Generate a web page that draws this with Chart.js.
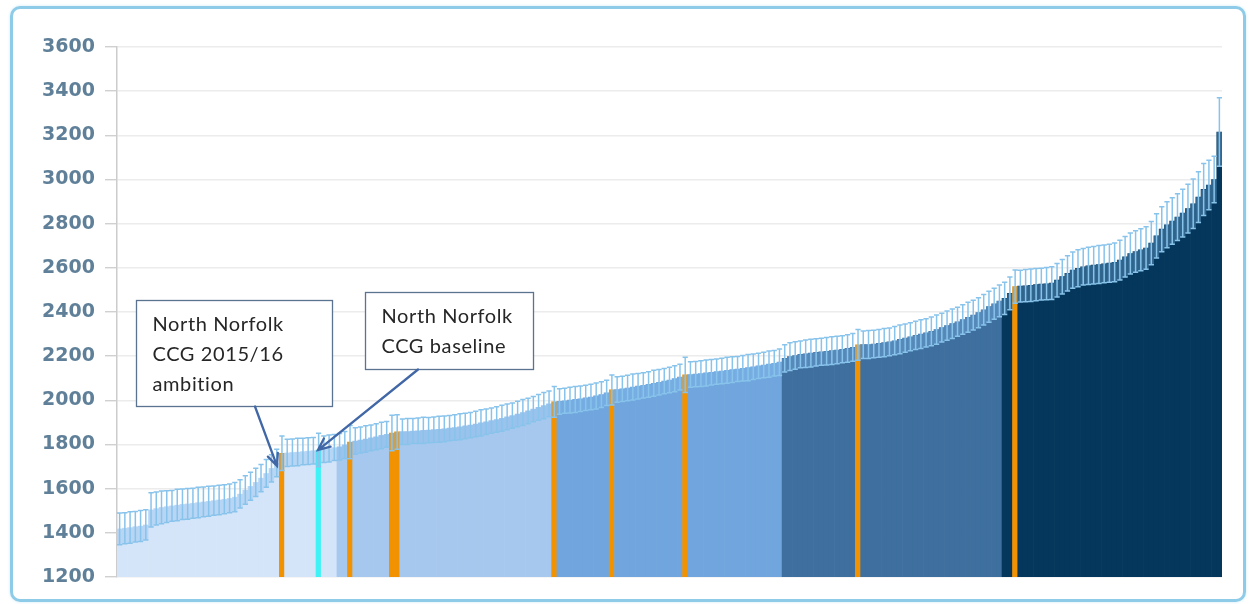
<!DOCTYPE html>
<html>
<head>
<meta charset="utf-8">
<script src="https://cdn.jsdelivr.net/npm/chart.js@4.4.1/dist/chart.umd.min.js"></script>
<style>
  html, body { margin: 0; padding: 0; background: #ffffff; }
  #wrap { position: relative; width: 1249px; height: 604px; overflow: hidden; }
  #wrap canvas { position: absolute; left: 0; top: 0; }
  #frame {
    position: absolute; left: 10px; top: 6px; width: 1230px; height: 590px;
    border: 3px solid #8ecbe9; border-radius: 10px;
    box-shadow: 0 0 3px #cbe9f7; pointer-events: none;
  }
</style>
</head>
<body>
<div id="wrap">
  <canvas id="chart" width="1249" height="604"></canvas>
  <div id="frame"></div>
</div>
<script>
// Rate per CCG, sorted from lowest to highest
const ccgValues = [
  1418, 1421, 1424, 1428, 1431, 1436, 1504, 1510, 1515, 1519,
  1522, 1526, 1529, 1531, 1534, 1537, 1540, 1543, 1546, 1549,
  1552, 1556, 1562, 1576, 1594, 1611, 1629, 1648, 1669, 1692,
  1716, 1760, 1762, 1764, 1766, 1768, 1770, 1772, 1775, 1778,
  1782, 1786,
  1790, 1798, 1811, 1816, 1820, 1825, 1830, 1835, 1841, 1846,
  1852, 1857, 1858, 1859, 1861, 1862, 1864, 1865, 1867, 1869,
  1871, 1874, 1877, 1880, 1884, 1888, 1893, 1898, 1903, 1908,
  1913, 1919, 1925, 1931, 1938, 1945, 1952, 1960, 1968, 1976,
  1984, 1993,
  1995, 1998, 2001, 2004, 2007, 2011, 2015, 2020, 2026, 2034,
  2047, 2049, 2052, 2056, 2060, 2064, 2068, 2072, 2077, 2082,
  2087, 2092, 2098, 2105, 2115, 2117, 2119, 2121, 2124, 2127,
  2130, 2133, 2136, 2139, 2142, 2145, 2148, 2152, 2156, 2160,
  2164, 2168, 2173,
  2190, 2198, 2203, 2208, 2211, 2214, 2217, 2220, 2222, 2225,
  2228, 2231, 2235, 2240, 2251, 2252, 2253, 2255, 2258, 2261,
  2265, 2270, 2276, 2282, 2288, 2294, 2300, 2306, 2312, 2320,
  2329, 2338, 2347, 2356, 2366, 2376, 2386, 2397, 2410, 2424,
  2437, 2450,
  2462, 2484, 2515, 2517, 2519, 2521, 2524, 2526, 2528, 2531,
  2544, 2560, 2575, 2590, 2598, 2605, 2609, 2612, 2615, 2618,
  2621, 2625, 2635, 2650, 2665, 2674, 2682, 2690, 2712, 2745,
  2775, 2795, 2812, 2830, 2848, 2868, 2890, 2920, 2955, 2975,
  3000, 3215
];

// Half-width of each CCG's confidence interval
const ciHalfWidth = [
  72, 70, 71, 69, 70, 68, 78, 75, 74, 72,
  70, 71, 69, 70, 68, 69, 67, 68, 66, 67,
  66, 65, 66, 64, 65, 63, 64, 62, 63, 62,
  62, 78, 62, 61, 62, 60, 61, 60, 76, 60,
  61, 59,
  60, 61, 75, 60, 59, 60, 58, 59, 60, 58,
  80, 78, 58, 59, 57, 58, 59, 57, 58, 59,
  58, 57, 58, 59, 58, 57, 58, 59, 58, 57,
  58, 59, 58, 57, 58, 59, 58, 57, 58, 59,
  58, 70,
  58, 57, 58, 59, 58, 57, 58, 59, 58, 57,
  68, 58, 57, 58, 59, 58, 57, 58, 59, 58,
  57, 58, 59, 58, 80, 58, 57, 58, 59, 58,
  57, 58, 59, 58, 57, 58, 59, 58, 57, 58,
  59, 58, 60,
  62, 63, 62, 61, 62, 63, 62, 61, 62, 63,
  62, 61, 62, 63, 70, 62, 63, 62, 63, 64,
  63, 64, 65, 64, 63, 64, 65, 64, 65, 66,
  65, 66, 67, 66, 67, 68, 67, 68, 69, 70,
  70, 72,
  73, 74, 75, 72, 73, 74, 73, 72, 73, 74,
  76, 78, 80, 82, 84, 83, 84, 85, 86, 85,
  86, 88, 90, 92, 93, 94, 95, 96, 98, 100,
  102, 104, 105, 106, 108, 110, 112, 115, 118, 112,
  105, 155
];

// Number of CCGs in each quintile, lowest first
const quintileSizes = [42, 42, 43, 42, 42];
// Positions (in rank order) of the peer CCGs and of North Norfolk CCG
const peerCcgIdx = [31, 44, 52, 53, 83, 94, 108, 141, 171];
const northNorfolkIdx = 38;

const yTickValues = [1200, 1400, 1600, 1800, 2000, 2200, 2400, 2600, 2800, 3000, 3200, 3400, 3600];
const calloutText = [
  ['North Norfolk', 'CCG 2015/16', 'ambition'],
  ['North Norfolk', 'CCG baseline']
];
const ccgRanks = ccgValues.map((_, i) => String(i + 1));

// ---- styling ----
const quintileColours = ['#d5e5f9', '#a7c8ee', '#70a6dd', '#3e6f9e', '#04375b'];
const peerColour = '#f39200';
const baselineColour = '#3ff2f6';

function barColours() {
  const out = [];
  quintileSizes.forEach((n, q) => { for (let k = 0; k < n; k++) out.push(quintileColours[q]); });
  peerCcgIdx.forEach(i => { out[i] = peerColour; });
  out[northNorfolkIdx] = baselineColour;
  return out;
}

// Confidence-interval whiskers drawn on top of the bars
const errorBars = {
  id: 'errorBars',
  afterDatasetsDraw(chart) {
    const meta = chart.getDatasetMeta(0);
    const y = chart.scales.y;
    const ctx = chart.ctx;
    ctx.save();
    meta.data.forEach((bar, i) => {
      const v = ccgValues[i], h = ciHalfWidth[i];
      const yv = y.getPixelForValue(v);
      const ylo = y.getPixelForValue(v - h);
      ctx.fillStyle = 'rgba(130,185,235,0.36)';
      ctx.fillRect(bar.x - bar.width / 2, yv, bar.width, ylo - yv);
    });
    ctx.strokeStyle = 'rgba(136,195,235,1)';
    ctx.lineWidth = 1.5;
    ctx.beginPath();
    meta.data.forEach((bar, i) => {
      const v = ccgValues[i], h = ciHalfWidth[i];
      const ylo = y.getPixelForValue(v - h);
      const yhi = y.getPixelForValue(v + h);
      const cw = bar.width * 0.5;
      ctx.moveTo(bar.x, yhi); ctx.lineTo(bar.x, ylo);
      ctx.moveTo(bar.x - cw, yhi); ctx.lineTo(bar.x + cw, yhi);
      ctx.moveTo(bar.x - cw, ylo); ctx.lineTo(bar.x + cw, ylo);
    });
    ctx.stroke();
    ctx.restore();
  }
};

// Callout boxes with arrows, placed in rank / value units
const callouts = [
  { lines: calloutText[0], left: 3.13, top: 2454, w: 196, h: 106, fromIdx: 25.85, tipIdx: 30.05, tipValue: 1703 },
  { lines: calloutText[1], left: 46.86, top: 2491, w: 168, h: 77, fromIdx: 56.98, tipIdx: 37.88, tipValue: 1775 }
];

const calloutPlugin = {
  id: 'callouts',
  afterDraw(chart) {
    const ctx = chart.ctx;
    const xs = chart.scales.x, ys = chart.scales.y;
    ctx.save();
    callouts.forEach(c => {
      const bx = Math.round(xs.getPixelForValue(c.left)) + 0.5;
      const by = Math.round(ys.getPixelForValue(c.top)) + 0.5;
      ctx.fillStyle = '#ffffff';
      ctx.fillRect(bx, by, c.w, c.h);
      ctx.strokeStyle = '#5a7391';
      ctx.lineWidth = 1.3;
      ctx.strokeRect(bx, by, c.w, c.h);
      ctx.fillStyle = '#262626';
      ctx.font = '20px Lato';
      ctx.letterSpacing = '0.6px';
      ctx.textBaseline = 'middle';
      ctx.textAlign = 'left';
      c.lines.forEach((t, k) => ctx.fillText(t, bx + 16, by + 24.5 + k * 29.6));
      ctx.letterSpacing = '0px';

      // arrow
      const x0 = xs.getPixelForValue(c.fromIdx), y0 = by + c.h;
      const x1 = xs.getPixelForValue(c.tipIdx), y1 = ys.getPixelForValue(c.tipValue);
      const ang = Math.atan2(y1 - y0, x1 - x0);
      ctx.strokeStyle = '#4167a6';
      ctx.lineWidth = 2.3;
      ctx.lineCap = 'round';
      ctx.beginPath();
      ctx.moveTo(x0, y0); ctx.lineTo(x1, y1);
      const L = 13, a = 0.42;
      ctx.moveTo(x1 - L * Math.cos(ang - a), y1 - L * Math.sin(ang - a));
      ctx.lineTo(x1, y1);
      ctx.lineTo(x1 - L * Math.cos(ang + a), y1 - L * Math.sin(ang + a));
      ctx.stroke();
    });
    ctx.restore();
  }
};

new Chart(document.getElementById('chart'), {
  type: 'bar',
  data: {
    labels: ccgRanks,
    datasets: [{
      data: ccgValues,
      backgroundColor: barColours(),
      borderWidth: 0,
      barPercentage: 1,
      categoryPercentage: 1
    }]
  },
  options: {
    responsive: false,
    animation: false,
    layout: { padding: { left: 0, right: 27, top: 47, bottom: 27 } },
    plugins: { legend: { display: false }, tooltip: { enabled: false } },
    scales: {
      x: { display: false },
      y: {
        min: 1200, max: 3600,
        afterBuildTicks: s => { s.ticks = yTickValues.map(v => ({ value: v })); },
        afterFit: s => { s.width = 117; },
        grid: { color: '#ececec', lineWidth: 1.5, tickLength: 12, tickColor: '#c8c8c8', tickWidth: 1.2 },
        border: { display: true, color: '#cccccc', width: 1.5 },
        ticks: {
          padding: 10,
          color: '#5f8098',
          font: { family: 'DejaVu Sans', size: 19, weight: 'bold' },
          callback: v => String(v)
        }
      }
    }
  },
  plugins: [errorBars, calloutPlugin]
});
</script>
</body>
</html>
